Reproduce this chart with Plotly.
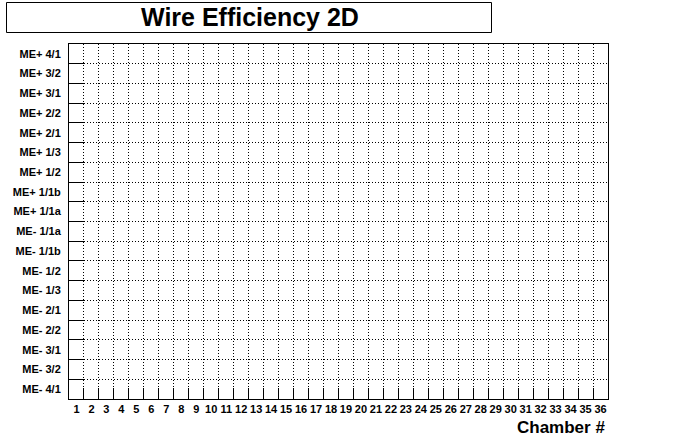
import plotly.graph_objects as go

# ---- data ----
chambers = list(range(1, 37))
chamber_labels = [str(c) for c in chambers]
stations = [
    "ME- 4/1", "ME- 3/2", "ME- 3/1", "ME- 2/2", "ME- 2/1", "ME- 1/3",
    "ME- 1/2", "ME- 1/1b", "ME- 1/1a", "ME+ 1/1a", "ME+ 1/1b", "ME+ 1/2",
    "ME+ 1/3", "ME+ 2/1", "ME+ 2/2", "ME+ 3/1", "ME+ 3/2", "ME+ 4/1",
]
station_pos = list(range(1, len(stations) + 1))
# empty histogram: no entries in any cell
efficiency = [[None for _ in chambers] for _ in stations]

title_text = "Wire Efficiency 2D"
x_title = "Chamber #"

FONT = "Liberation Sans, Arial, Helvetica, sans-serif"
W, H = 692, 444
L, R, T, B = 69, 608, 44, 399
pw, ph = R - L, B - T


def px_x(x):
    return (x - L) / pw


def px_y(y):
    return (B - y) / ph


fig = go.Figure(
    go.Heatmap(
        x=chambers, y=station_pos, z=efficiency,
        showscale=False, hoverinfo="skip",
        colorscale=[[0, "white"], [1, "white"]],
    )
)

x_edges = [c + 0.5 for c in chambers[:-1]]
y_edges = [p + 0.5 for p in station_pos[:-1]]
grid_dash = "1px,2px"

fig.update_layout(
    width=W, height=H,
    margin=dict(l=L, r=W - R, t=T, b=H - B, pad=0),
    paper_bgcolor="white", plot_bgcolor="white",
    showlegend=False,
    font=dict(family=FONT, color="black", size=11),
    xaxis=dict(
        range=[0.5, len(chambers) + 0.5],
        tickmode="array", tickvals=chambers, ticktext=chamber_labels,
        ticks="", ticklen=0, showgrid=False, zeroline=False,
        showline=True, mirror=True, linecolor="black", linewidth=1,
        tickfont=dict(family=FONT, size=11, color="black", weight="bold"),
        ticklabelstandoff=0,
        minor=dict(
            tickmode="array", tickvals=x_edges,
            ticks="inside", ticklen=11, tickwidth=1, tickcolor="black",
            showgrid=True, gridcolor="black", gridwidth=1, griddash=grid_dash,
        ),
        fixedrange=True,
    ),
    yaxis=dict(
        range=[0.5, len(stations) + 0.5],
        tickmode="array", tickvals=station_pos, ticktext=stations,
        ticks="", ticklen=0, showgrid=False, zeroline=False,
        showline=True, mirror=True, linecolor="black", linewidth=1,
        tickfont=dict(family=FONT, size=11, color="black", weight="bold"),
        ticklabelstandoff=5,
        minor=dict(
            tickmode="array", tickvals=y_edges,
            ticks="inside", ticklen=15, tickwidth=1, tickcolor="black",
            showgrid=True, gridcolor="black", gridwidth=1, griddash=grid_dash,
        ),
        fixedrange=True,
    ),
    shapes=[
        dict(
            type="rect", xref="paper", yref="paper",
            x0=px_x(6.5), x1=px_x(491.5), y0=px_y(32.5), y1=px_y(2.5),
            line=dict(color="black", width=1), fillcolor="white", layer="above",
        )
    ],
    annotations=[
        dict(
            text=title_text, xref="paper", yref="paper",
            x=px_x(249.5), y=px_y(17), xanchor="center", yanchor="middle",
            showarrow=False,
            font=dict(family=FONT, size=25, color="black", weight="bold"),
        ),
        dict(
            text=x_title, xref="paper", yref="paper",
            x=px_x(607), y=px_y(428), xanchor="right", yanchor="middle",
            showarrow=False,
            font=dict(family=FONT, size=17, color="black", weight="bold"),
        ),
    ],
)

fig.write_html(
    "out.html",
    config={"displayModeBar": False},
    post_script="document.body.style.margin='0';document.body.style.padding='0';",
)
